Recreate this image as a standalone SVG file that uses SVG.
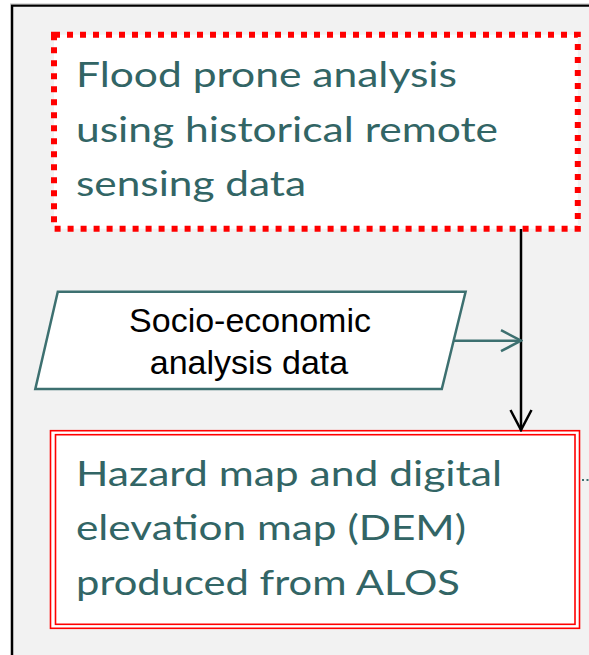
<svg xmlns="http://www.w3.org/2000/svg" width="589" height="655" viewBox="0 0 589 655">
<style>
.big{font-family:Lato,"Open Sans","Liberation Sans",sans-serif;font-size:35px;fill:#326565}
.sm{font-family:"Liberation Sans",Arial,sans-serif;font-size:34px;fill:#000;text-anchor:middle}
.red{fill:none;stroke:#ff0000;stroke-width:1.6}
</style>
<defs>
<marker id="openT" viewBox="0 0 24 24" refX="22" refY="12" markerWidth="24" markerHeight="24" markerUnits="userSpaceOnUse" orient="auto">
<path d="M2,1.5 L22,12 L2,22.5" fill="none" stroke="#3d7070" stroke-width="2.5"/>
</marker>
<marker id="openB" viewBox="0 0 24 24" refX="22" refY="12" markerWidth="24" markerHeight="24" markerUnits="userSpaceOnUse" orient="auto">
<path d="M2,1.5 L22,12 L2,22.5" fill="none" stroke="#000" stroke-width="2.5"/>
</marker>
</defs>
<rect x="0" y="0" width="589" height="655" fill="#ffffff"/>
<g id="frame">
<rect x="12" y="5.5" width="600" height="700" fill="#f2f2f2" stroke="#000" stroke-width="2.5"/>
<line x1="10" y1="4" x2="589" y2="4" stroke="#bbbbbb" stroke-width="1"/>
</g>
<g id="node-flood">
<rect x="54" y="34.7" width="523.8" height="194" fill="#ffffff" stroke="#ff0000" stroke-width="6" stroke-dasharray="6 7"/>
<text class="big" x="76" y="87" textLength="381" lengthAdjust="spacingAndGlyphs">Flood prone analysis</text>
<text class="big" x="76" y="141.5" textLength="422" lengthAdjust="spacingAndGlyphs">using historical remote</text>
<text class="big" x="76" y="196" textLength="230" lengthAdjust="spacingAndGlyphs">sensing data</text>
</g>
<g id="node-socio">
<polygon points="57.8,291.7 465.6,291.7 441.8,389 35.3,389" fill="#ffffff" stroke="#3d7070" stroke-width="2.5"/>
<text class="sm" x="250" y="331.7">Socio-economic</text>
<text class="sm" x="249" y="374">analysis data</text>
</g>
<g id="node-hazard">
<rect x="50.5" y="430.7" width="529" height="197.6" fill="#ffffff" stroke="#ff0000" stroke-width="1.6"/>
<rect x="55.5" y="434.7" width="519.5" height="189.6" class="red"/>
<text class="big" x="76" y="485.5" textLength="426" lengthAdjust="spacingAndGlyphs">Hazard map and digital</text>
<text class="big" x="76" y="540" textLength="390" lengthAdjust="spacingAndGlyphs">elevation map (DEM)</text>
<text class="big" x="76" y="595" textLength="384" lengthAdjust="spacingAndGlyphs">produced from ALOS</text>
</g>
<g id="connectors">
<line x1="521" y1="229" x2="521" y2="430" stroke="#000" stroke-width="2.5" marker-end="url(#openB)"/>
<line x1="454" y1="340.7" x2="521" y2="340.7" stroke="#3d7070" stroke-width="2.5" marker-end="url(#openT)"/>
<line x1="582" y1="480" x2="589" y2="480" stroke="#3d7070" stroke-width="1.8" stroke-dasharray="2 2.5"/>
</g>
</svg>
